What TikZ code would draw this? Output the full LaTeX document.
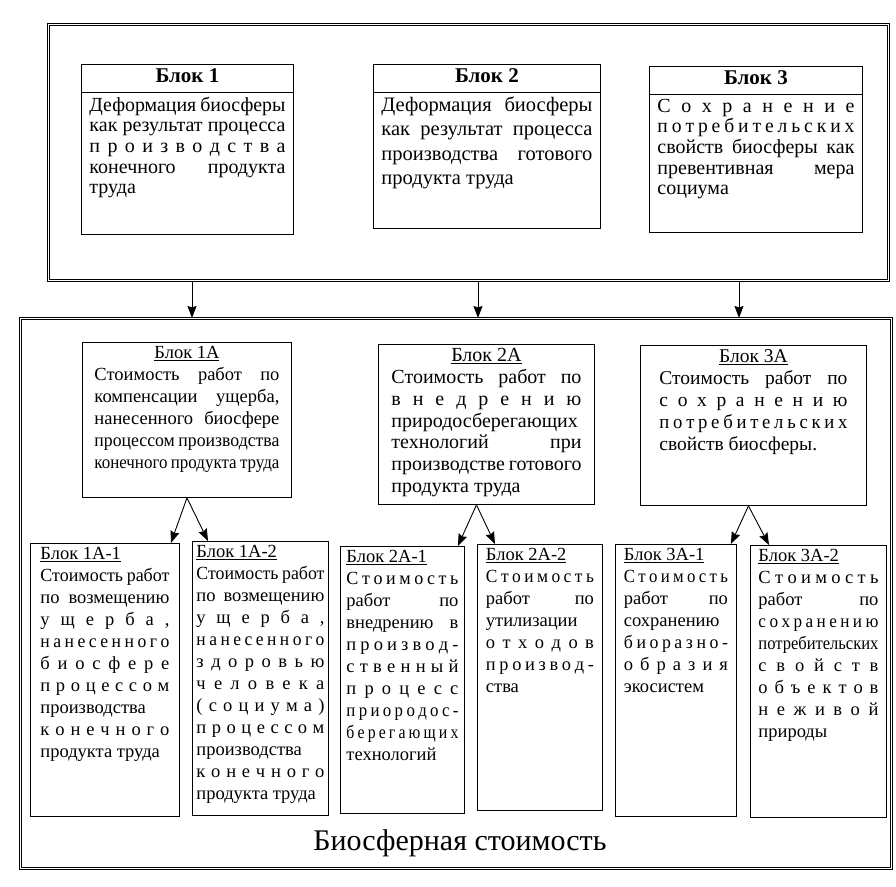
\documentclass[tikz,border=0pt]{standalone}
\usepackage{fontspec}
\setmainfont{Liberation Serif}
\usepackage{graphicx}
\usetikzlibrary{arrows.meta, shapes.multipart}

% justified line of a block (condensed if too long)
\newlength\jlw
\newcommand\jlx[1]{{\spaceskip=.2em plus 1fil\relax
  \settowidth\jlw{#1}%
  \ifdim\jlw>\linewidth\resizebox{\linewidth}{\height}{#1}%
  \else\makebox[\linewidth][s]{#1}\fi}}
\newcommand\jl[1]{\jlx{#1}\\}
\newcommand\hdr[1]{\rule[-5pt]{0pt}{19pt}{\fontsize{21}{22}\selectfont\bfseries #1}}

\begin{document}
\begin{tikzpicture}[
						x=1pt, y=-1pt,
						>={Stealth[length=12pt, width=9pt, inset=1.5pt]},
						frame/.style={draw, double, line width=0.9pt, double distance=1.6pt, anchor=north west, inner sep=0pt},
						blk/.style={draw, line width=0.9pt, anchor=north west, inner xsep=0pt, inner ysep=4pt},
						topblk/.style={blk, rectangle split, rectangle split parts=2, inner xsep=8pt},
						low/.style={blk, font=\fontsize{18.5}{22}\selectfont}
					]
\useasboundingbox (0,0) rectangle (896,886);

\node[frame, minimum width=840pt, minimum height=256pt] (upper) at (48,24) {};
\node[frame, minimum width=871pt, minimum height=550pt] (lower) at (20,318) {};

% upper blocks
\node[topblk, font=\fontsize{20}{20.7}\selectfont] (b1) at (81,64)
	{\hdr{Блок 1}\nodepart{two}\parbox[t][133pt][t]{196pt}{%
	\jl{Деформация биосферы}
	\jl{как результат процесса}
	\jl{п р о и з в о д с т в а}
	\jl{конечного продукта}
	труда}};
\node[topblk, font=\fontsize{20.5}{24.5}\selectfont] (b2) at (373,64)
	{\hdr{Блок 2}\nodepart{two}\parbox[t][127pt][t]{211pt}{%
	\jl{Деформация биосферы}
	\jl{как результат процесса}
	\jl{производства готового}
	продукта труда}};
\node[topblk, font=\fontsize{20}{20.7}\selectfont] (b3) at (649,66)
	{\hdr{Блок 3}\nodepart{two}\parbox[t][129pt][t]{197pt}{%
	\jl{С о х р а н е н и е}
	\jl{п о т р е б и т е л ь с к и х}
	\jl{свойств биосферы как}
	\jl{превентивная мера}
	социума}};

% middle blocks
\node[blk, minimum width=209pt, font=\fontsize{18.5}{22}\selectfont] (m1) at (82,342)
	{\parbox[t][147pt][t]{185pt}{{\centering\underline{Блок 1А}\par}
	\jl{Стоимость работ по}
	\jl{компенсации ущерба,}
	\jl{нанесенного биосфере}
	\jl{процессом производства}
	\jlx{конечного продукта труда}}};
\node[blk, minimum width=216pt, font=\fontsize{20}{21.8}\selectfont] (m2) at (378,344)
	{\parbox[t][152pt][t]{190pt}{{\centering\underline{Блок 2А}\par}
	\jl{Стоимость работ по}
	\jl{в н е д р е н и ю}
	\jl{природосберегающих}
	\jl{технологий при}
	\jl{производстве готового}
	продукта труда}};
\node[blk, minimum width=226pt, font=\fontsize{19.5}{22}\selectfont] (m3) at (640,345)
	{\parbox[t][152pt][t]{188pt}{{\centering\underline{Блок 3А}\par}
	\jl{Стоимость работ по}
	\jl{с о х р а н е н и ю}
	\jl{п о т р е б и т е л ь с к и х}
	свойств биосферы.}};

% lower blocks
\node[low, minimum width=149pt] (c11) at (30,543)
	{\parbox[t][265pt][t]{129pt}{\underline{Блок 1А-1}\par
	\jl{Стоимость работ}
	\jl{по возмещению}
	\jl{у щ е р б а ,}
	\jl{н а н е с е н н о г о}
	\jl{б и о с ф е р е}
	\jl{п р о ц е с с о м}
	\jl{производства}
	\jl{к о н е ч н о г о}
	продукта труда}};
\node[low, minimum width=136pt] (c12) at (192,541)
	{\parbox[t][266pt][t]{128pt}{\underline{Блок 1А-2}\par
	\jl{Стоимость работ}
	\jl{по возмещению}
	\jl{у щ е р б а ,}
	\jl{н а н е с е н н о г о}
	\jl{з д о р о в ь ю}
	\jl{ч е л о в е к а}
	\jl{( с о ц и у м а )}
	\jl{п р о ц е с с о м}
	\jl{производства}
	\jl{к о н е ч н о г о}
	продукта труда}};
\node[low, minimum width=124pt] (c21) at (340,546)
	{\parbox[t][259pt][t]{112pt}{\underline{Блок 2А-1}\par
	\jl{С т о и м о с т ь}
	\jl{работ по}
	\jl{внедрению в}
	\jl{п р о и з в о д -}
	\jl{с т в е н н ы й}
	\jl{п р о ц е с с}
	\jl{п р и о р о д о с -}
	\jl{б е р е г а ю щ и х}
	технологий}};
\node[low, minimum width=125pt] (c22) at (477,544)
	{\parbox[t][258pt][t]{108pt}{\underline{Блок 2А-2}\par
	\jl{С т о и м о с т ь}
	\jl{работ по}
	\jl{утилизации}
	\jl{о т х о д о в}
	\jl{п р о и з в о д -}
	ства}};
\node[low, minimum width=121pt] (c31) at (615,544)
	{\parbox[t][264pt][t]{104pt}{\underline{Блок 3А-1}\par
	\jl{С т о и м о с т ь}
	\jl{работ по}
	\jl{сохранению}
	\jl{б и о р а з н о -}
	\jl{о б р а з и я}
	экосистем}};
\node[low, minimum width=136pt] (c32) at (750,545)
	{\parbox[t][264pt][t]{120pt}{\underline{Блок 3А-2}\par
	\jl{С т о и м о с т ь}
	\jl{работ по}
	\jl{с о х р а н е н и ю}
	\jl{потребительских}
	\jl{с в о й с т в}
	\jl{о б ъ е к т о в}
	\jl{н е ж и в о й}
	природы}};

\node[font=\fontsize{30}{32}\selectfont] (bio) at (460,843) {Биосферная стоимость};

\coordinate (a1) at (192,0);
\coordinate (a2) at (478,0);
\coordinate (a3) at (739,0);

\path[->, line width=0.9pt]
	(upper.south -| a1) edge (lower.north -| a1)
	(upper.south -| a2) edge (lower.north -| a2)
	(upper.south -| a3) edge (lower.north -| a3)
	(m1.south) edge ([xshift=-9pt]c11.north east)
	(m1.south) edge ([xshift=16pt]c12.north west)
	([xshift=-10pt]m2.south) edge ([xshift=-7pt]c21.north east)
	([xshift=-10pt]m2.south) edge ([xshift=18pt]c22.north west)
	([xshift=-5pt]m3.south) edge ([xshift=-6pt]c31.north east)
	([xshift=-5pt]m3.south) edge ([xshift=19pt]c32.north west);
\end{tikzpicture}
\end{document}
